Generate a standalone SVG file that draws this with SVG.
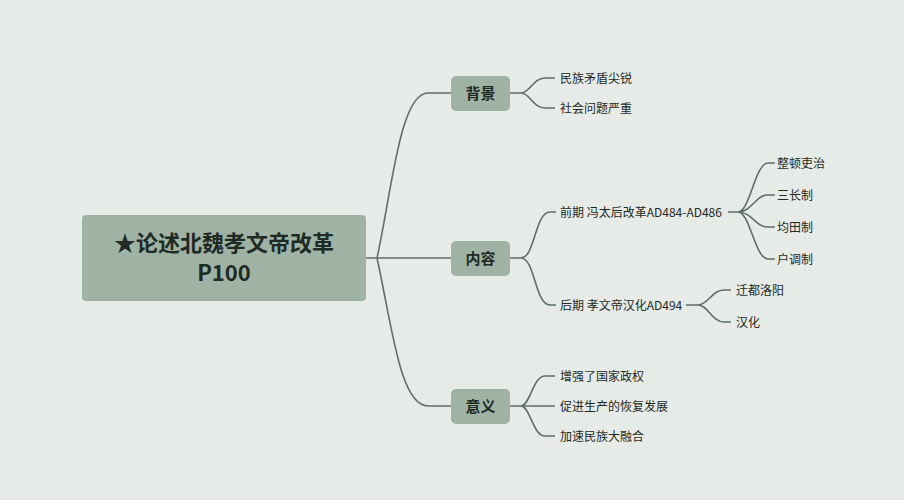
<svg xmlns="http://www.w3.org/2000/svg" width="904" height="500" viewBox="0 0 904 500">
<style>
.n{fill:#9fb3a5}
.c{fill:none;stroke:#5f6f66;stroke-width:1.6}
.t{font-family:"Noto Sans CJK SC","Noto Sans",sans-serif;fill:#1f2a24}
.b{font-size:15px;font-weight:bold;text-anchor:middle}
.l{font-size:12px}
</style>
<rect width="904" height="500" fill="#e6ebe8"/>
<g id="connectors" class="c">
<path d="M366 258 H377 M377 258 C392 190 400 93 428 93 H451"/>
<path d="M377 258 H451"/>
<path d="M377 258 C392 326 400 406 428 406 H451"/>
<path d="M510 93 H521 C530 93 533 78 545 78 H555 M521 93 C530 93 533 108 545 108 H555"/>
<path d="M510 258 H521 C535 258 535 212 550 212 H556 M521 258 C535 258 535 305 550 305 H556"/>
<path d="M728 212 H738 C750 212 755 163 768 163 H775 M738 212 C752 212 755 195 768 195 H775 M738 212 C752 212 755 227 768 227 H775 M738 212 C750 212 755 259 768 259 H775"/>
<path d="M686 305 H698 C708 305 712 290 724 290 H731 M698 305 C708 305 712 322 724 322 H731"/>
<path d="M510 406 H521 C530 406 533 376 545 376 H555 M521 406 H555 M521 406 C530 406 533 436 545 436 H555"/>
</g>
<g id="root"><rect class="n" x="82" y="215" width="284" height="86" rx="4"/>
<text class="t" x="224" y="251" font-size="22" font-weight="bold" text-anchor="middle">★论述北魏孝文帝改革</text>
<text class="t" x="224" y="281" font-size="22" font-weight="bold" text-anchor="middle">P100</text></g>
<g id="bg"><rect class="n" x="451" y="76" width="59" height="35" rx="5"/><text class="t b" x="480.5" y="98.5">背景</text></g>
<g id="nr"><rect class="n" x="451" y="241" width="59" height="35" rx="5"/><text class="t b" x="480.5" y="263.5">内容</text></g>
<g id="yy"><rect class="n" x="451" y="389" width="59" height="35" rx="5"/><text class="t b" x="480.5" y="411.5">意义</text></g>
<g id="leaves" class="t l">
<text x="560" y="83">民族矛盾尖锐</text>
<text x="560" y="113">社会问题严重</text>
<text x="560" y="217">前期 冯太后改革AD484-AD486</text>
<text x="560" y="310">后期 孝文帝汉化AD494</text>
<text x="777" y="168">整顿吏治</text>
<text x="777" y="200">三长制</text>
<text x="777" y="232">均田制</text>
<text x="777" y="264">户调制</text>
<text x="736" y="295">迁都洛阳</text>
<text x="736" y="327">汉化</text>
<text x="560" y="381">增强了国家政权</text>
<text x="560" y="411">促进生产的恢复发展</text>
<text x="560" y="441">加速民族大融合</text>
</g>
</svg>
